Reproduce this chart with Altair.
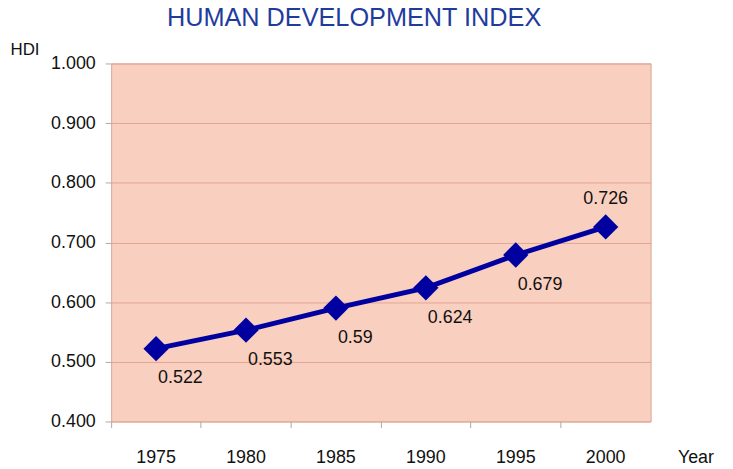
import altair as alt
import pandas as pd

years = ["1975", "1980", "1985", "1990", "1995", "2000"]
hdi = [0.522, 0.553, 0.59, 0.624, 0.679, 0.726]
labels = ["0.522", "0.553", "0.59", "0.624", "0.679", "0.726"]
label_side = ["below", "below", "below", "below", "below", "above"]
y_ticks = [0.4, 0.5, 0.6, 0.7, 0.8, 0.9, 1.0]

df = pd.DataFrame({"Year": years, "HDI": hdi, "label": labels, "side": label_side})

FONT = "Liberation Sans"
NAVY = "#0000A0"
TXT = "#111111"

xscale = alt.Scale(type="band", paddingInner=0, paddingOuter=0)
yscale = alt.Scale(domain=[0.4, 1.0], nice=False, zero=False)

y_axis = alt.Axis(
    values=y_ticks, format=".3f", grid=True, gridColor="#E3A493", gridWidth=1,
    domain=False, ticks=True, tickSize=6, tickColor="#B0A8A8",
    labelFont=FONT, labelFontSize=18, labelColor=TXT, labelPadding=10,
    title="HDI", titleAngle=0, titleAlign="left", titleBaseline="alphabetic",
    titleX=-102, titleY=-9, titleFont=FONT, titleFontSize=17,
    titleFontWeight="normal", titleColor=TXT,
)

x_label_axis = alt.Axis(
    orient="bottom", ticks=False, domain=False, grid=False, labelAngle=0,
    labelFont=FONT, labelFontSize=18, labelColor=TXT, labelPadding=27,
    title="Year", titleFont=FONT, titleFontSize=18, titleFontWeight="normal",
    titleColor=TXT, titleAngle=0, titleAlign="left", titleBaseline="alphabetic",
    titleX=571, titleY=41,
)

x_tick_axis = alt.Axis(
    orient="bottom", labels=False, domain=False, grid=False, ticks=True,
    tickSize=6, tickColor="#A8A8A8", bandPosition=0, title=None,
)

base = alt.Chart(df).encode(y=alt.Y("HDI:Q", scale=yscale, axis=y_axis))

line = base.mark_line(color=NAVY, strokeWidth=5).encode(
    x=alt.X("Year:O", scale=xscale, axis=x_label_axis, sort=years)
)

points = base.mark_point(shape="diamond", filled=True, size=650, color=NAVY, opacity=1).encode(
    x=alt.X("Year:O", scale=xscale, axis=x_tick_axis, sort=years)
)

text_below = base.mark_text(
    align="left", baseline="middle", dx=2, dy=30, font=FONT, fontSize=18, color=TXT
).encode(
    x=alt.X("Year:O", scale=xscale, axis=None, sort=years),
    text="label:N",
).transform_filter(alt.datum.side == "below")

text_above = base.mark_text(
    align="center", baseline="middle", dy=-28, font=FONT, fontSize=18, color=TXT
).encode(
    x=alt.X("Year:O", scale=xscale, axis=None, sort=years),
    text="label:N",
).transform_filter(alt.datum.side == "above")

chart = (
    alt.layer(line, points, text_below, text_above)
    .resolve_axis(x="independent")
    .properties(
        width=544,
        height=361,
        autosize="none",
        padding={"left": 104, "top": 54, "right": 75, "bottom": 46},
        background="white",
        title=alt.TitleParams(
            "HUMAN DEVELOPMENT INDEX", font=FONT, fontSize=25.5, fontWeight="normal",
            color="#1F3C9C", anchor="middle", frame="group", dx=-27,
            baseline="alphabetic", offset=-11,
        ),
    )
    .configure_view(fill="#F9CFBF", stroke="#D8A898", strokeWidth=1)
)

chart.save("out.html", embed_options={"renderer": "svg", "actions": False})
